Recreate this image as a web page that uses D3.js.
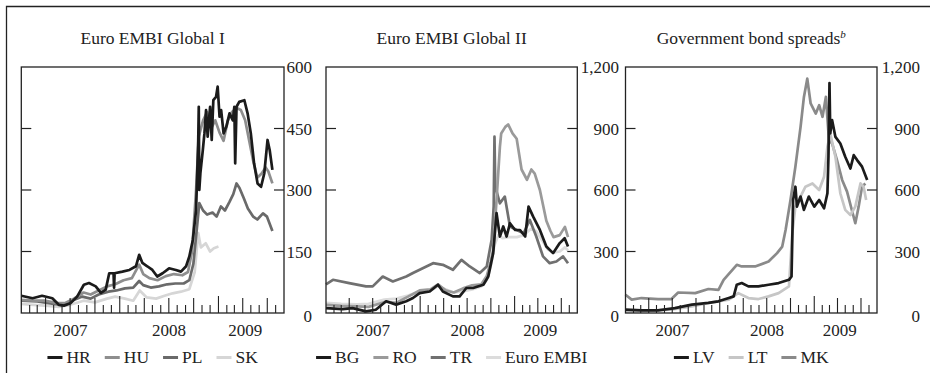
<!DOCTYPE html>
<html>
<head>
<meta charset="utf-8">
<script src="https://cdn.jsdelivr.net/npm/d3@7.9.0/dist/d3.min.js"></script>
<style>
  body { margin: 0; background: #fff; }
  svg text { font-family: "Liberation Serif", "DejaVu Serif", "Times New Roman", serif; }
</style>
</head>
<body>
<svg id="chart" width="930" height="373"></svg>
<script>
// ---- data: [date, spread in basis points] ----
const hr = [["2007-01-01",42],["2007-02-12",36],["2007-03-19",42],["2007-04-26",36],["2007-05-20",20],["2007-06-08",18],
  ["2007-07-02",24],["2007-07-27",40],["2007-08-21",69],["2007-09-09",73],["2007-10-04",65],["2007-10-23",49],
  ["2007-11-10",57],["2007-11-23",97],["2007-12-09",97],["2007-12-11",62],["2007-12-13",97],["2008-01-11",101],
  ["2008-02-06",105],["2008-03-01",114],["2008-03-13",142],["2008-03-25",122],["2008-04-12",114],["2008-05-01",105],
  ["2008-05-19",89],["2008-06-08",97],["2008-07-02",109],["2008-07-27",105],["2008-08-15",101],["2008-09-03",114],
  ["2008-09-15",138],["2008-09-28",178],["2008-10-10",251],["2008-10-18",420],["2008-10-20",503],["2008-10-22",300],
  ["2008-10-26",341],["2008-11-04",397],["2008-11-10",438],["2008-11-16",495],["2008-11-22",430],["2008-12-01",503],
  ["2008-12-07",422],["2008-12-13",519],["2008-12-23",527],["2008-12-29",552],["2009-01-05",479],["2009-01-11",495],
  ["2009-01-20",438],["2009-01-30",454],["2009-02-11",487],["2009-02-23",470],["2009-03-01",503],["2009-03-04",365],
  ["2009-03-09",503],["2009-03-19",515],["2009-04-07",519],["2009-04-19",487],["2009-05-01",438],["2009-05-13",365],
  ["2009-05-26",316],["2009-06-08",308],["2009-06-20",341],["2009-07-02",422],["2009-07-10",397],["2009-07-20",349]];
const hu = [["2007-01-01",32],["2007-02-15",30],["2007-04-01",30],["2007-05-15",24],["2007-06-15",25],["2007-07-15",35],
  ["2007-08-20",50],["2007-09-15",45],["2007-10-15",55],["2007-11-15",65],["2007-12-15",70],["2008-01-15",80],
  ["2008-02-15",85],["2008-03-13",118],["2008-03-28",95],["2008-04-20",85],["2008-05-20",80],["2008-06-20",90],
  ["2008-07-20",95],["2008-08-20",92],["2008-09-10",100],["2008-09-25",150],["2008-10-10",300],["2008-10-20",430],
  ["2008-11-05",470],["2008-11-20",490],["2008-12-05",450],["2008-12-20",470],["2009-01-05",440],["2009-01-20",420],
  ["2009-02-05",470],["2009-02-20",490],["2009-03-10",500],["2009-03-25",495],["2009-04-10",470],["2009-04-25",420],
  ["2009-05-10",370],["2009-05-25",330],["2009-06-10",340],["2009-06-25",355],["2009-07-05",345],["2009-07-20",316]];
const pl = [["2007-01-01",30],["2007-03-01",28],["2007-05-01",22],["2007-06-01",20],["2007-07-01",28],["2007-08-15",40],
  ["2007-09-15",35],["2007-10-15",45],["2007-11-20",52],["2007-12-20",55],["2008-01-20",60],["2008-02-20",62],
  ["2008-03-13",78],["2008-03-28",68],["2008-04-25",62],["2008-05-25",65],["2008-06-25",70],["2008-07-25",72],
  ["2008-08-25",72],["2008-09-15",80],["2008-09-30",120],["2008-10-12",200],["2008-10-22",268],["2008-11-05",250],
  ["2008-11-20",240],["2008-12-10",245],["2008-12-25",235],["2009-01-10",260],["2009-01-25",250],["2009-02-10",270],
  ["2009-02-25",290],["2009-03-09",316],["2009-03-20",305],["2009-04-05",280],["2009-04-20",255],["2009-05-10",235],
  ["2009-05-25",228],["2009-06-15",243],["2009-06-30",235],["2009-07-20",200]];
const sk = [["2007-01-01",22],["2007-02-15",20],["2007-04-01",18],["2007-05-20",15],["2007-07-01",20],["2007-08-20",30],
  ["2007-10-01",26],["2007-11-15",35],["2007-12-15",40],["2008-01-20",35],["2008-02-20",30],["2008-03-15",55],
  ["2008-04-10",38],["2008-05-15",35],["2008-06-15",42],["2008-07-15",48],["2008-08-15",52],["2008-09-15",58],
  ["2008-10-05",100],["2008-10-18",195],["2008-10-28",160],["2008-11-15",170],["2008-12-01",150],["2008-12-15",158],
  ["2009-01-01",162]];

const bg = [["2007-01-01",24],["2007-03-06",19],["2007-04-14",24],["2007-06-05",8],["2007-07-13",16],["2007-08-22",57],
  ["2007-09-30",41],["2007-11-08",57],["2007-12-04",73],["2007-12-30",97],["2008-02-07",105],["2008-03-10",138],
  ["2008-03-29",105],["2008-05-07",81],["2008-06-02",81],["2008-06-28",122],["2008-07-24",122],["2008-09-02",138],
  ["2008-09-21",178],["2008-10-10",292],["2008-10-23",487],["2008-11-05",373],["2008-11-18",422],["2008-12-01",373],
  ["2008-12-14",438],["2009-01-03",405],["2009-01-22",405],["2009-02-11",373],["2009-02-24",519],["2009-03-14",470],
  ["2009-04-09",405],["2009-05-04",324],["2009-05-30",292],["2009-06-25",341],["2009-07-14",365],["2009-07-27",324]];
const ro = [["2007-01-01",40],["2007-03-01",35],["2007-05-01",32],["2007-06-15",30],["2007-08-20",55],["2007-10-01",50],
  ["2007-11-15",80],["2007-12-30",110],["2008-02-10",115],["2008-03-10",140],["2008-04-10",110],["2008-05-10",100],
  ["2008-06-15",120],["2008-07-20",135],["2008-08-25",140],["2008-09-15",180],["2008-09-30",250],["2008-10-10",308],
  ["2008-10-23",551],["2008-11-05",810],["2008-11-10",876],["2008-11-26",908],["2008-12-07",920],["2008-12-24",876],
  ["2009-01-09",850],["2009-01-28",700],["2009-02-18",650],["2009-03-07",700],["2009-03-20",680],["2009-04-09",600],
  ["2009-05-04",450],["2009-05-20",400],["2009-06-01",370],["2009-06-25",380],["2009-07-15",420],["2009-07-27",370]];
const tr = [["2007-01-01",140],["2007-01-28",162],["2007-04-01",146],["2007-06-05",130],["2007-07-01",130],["2007-08-09",178],
  ["2007-09-17",154],["2007-11-08",178],["2007-12-04",195],["2007-12-30",211],["2008-02-20",243],["2008-03-29",235],
  ["2008-05-07",211],["2008-06-09",259],["2008-07-11",227],["2008-08-19",195],["2008-09-15",227],["2008-10-04",357],
  ["2008-10-12",520],["2008-10-15",860],["2008-10-18",616],["2008-11-05",535],["2008-11-24",568],["2008-12-14",422],
  ["2009-01-09",405],["2009-02-05",389],["2009-03-01",454],["2009-03-26",373],["2009-04-21",276],["2009-05-17",243],
  ["2009-06-12",251],["2009-07-08",276],["2009-07-27",243]];
const euroEmbi = [["2007-01-01",50],["2007-03-01",45],["2007-05-01",42],["2007-06-15",45],["2007-08-15",65],["2007-10-01",70],
  ["2007-11-15",85],["2007-12-30",105],["2008-02-10",110],["2008-03-10",130],["2008-04-10",115],["2008-05-10",100],
  ["2008-06-15",105],["2008-07-20",115],["2008-08-25",130],["2008-09-15",160],["2008-10-01",230],["2008-10-15",330],
  ["2008-10-30",380],["2008-11-15",365],["2008-12-10",370],["2009-01-10",370],["2009-02-05",380],["2009-03-05",410],
  ["2009-03-25",400],["2009-04-15",360],["2009-05-10",310],["2009-06-01",295],["2009-06-25",300],["2009-07-15",320],
  ["2009-07-27",305]];

const lv = [["2007-01-01",16],["2007-03-04",13],["2007-05-07",13],["2007-07-11",24],["2007-09-15",41],["2007-11-18",49],
  ["2007-12-27",57],["2008-02-05",73],["2008-02-24",81],["2008-03-07",138],["2008-03-26",146],["2008-04-21",130],
  ["2008-05-30",130],["2008-07-08",138],["2008-08-16",146],["2008-09-25",162],["2008-10-05",178],["2008-10-11",551],
  ["2008-10-20",616],["2008-10-26",519],["2008-11-09",568],["2008-11-22",503],["2008-12-11",568],["2009-01-01",519],
  ["2009-01-20",551],["2009-02-08",511],["2009-02-21",584],["2009-02-25",762],["2009-03-01",1122],["2009-03-04",876],
  ["2009-03-11",941],["2009-03-24",859],["2009-04-12",827],["2009-05-01",762],["2009-05-21",705],["2009-06-03",770],
  ["2009-06-16",746],["2009-07-05",714],["2009-07-25",649]];
const lt = [["2007-01-01",8],["2007-04-01",10],["2007-07-01",18],["2007-09-15",32],["2007-11-18",49],["2008-02-05",65],
  ["2008-03-13",97],["2008-04-21",73],["2008-05-30",68],["2008-07-08",81],["2008-08-16",97],["2008-09-25",130],
  ["2008-10-08",389],["2008-10-20",519],["2008-11-02",551],["2008-11-28",616],["2008-12-25",632],["2009-01-20",600],
  ["2009-02-08",665],["2009-02-21",811],["2009-03-04",876],["2009-03-24",762],["2009-04-12",584],["2009-05-01",503],
  ["2009-05-21",478],["2009-06-09",519],["2009-06-29",632],["2009-07-11",616],["2009-07-21",551]];
const mk = [["2007-01-01",89],["2007-01-25",65],["2007-03-04",73],["2007-05-07",68],["2007-06-28",68],["2007-07-24",100],
  ["2007-09-28",97],["2007-11-18",117],["2007-12-27",113],["2008-01-16",162],["2008-03-07",235],["2008-03-26",227],
  ["2008-05-17",227],["2008-07-08",251],["2008-08-10",292],["2008-08-30",324],["2008-09-12",405],["2008-10-01",551],
  ["2008-10-20",714],["2008-11-09",908],["2008-11-22",1054],["2008-12-05",1143],["2008-12-18",1022],["2009-01-07",973],
  ["2009-01-20",1014],["2009-02-02",957],["2009-02-15",1054],["2009-02-27",843],["2009-03-11",827],["2009-03-30",746],
  ["2009-04-19",649],["2009-05-08",592],["2009-05-28",495],["2009-06-09",438],["2009-06-22",519],["2009-07-05",616],
  ["2009-07-18",632]];

const titles = ["Euro EMBI Global I", "Euro EMBI Global II", "Government bond spreads"];
const yearLabels = [["2007", "2007-07-02"], ["2008", "2008-07-02"], ["2009", "2009-04-10"]];

const parse = d3.timeParse('%Y-%m-%d');
const svg = d3.select('#chart');
const serif = '"Liberation Serif", "DejaVu Serif", "Times New Roman", serif';

// outer box (only left and top edges fall inside the picture)
svg.append('path')
  .attr('d', 'M6.5,380V6.5H940')
  .attr('fill', 'none').attr('stroke', '#222').attr('stroke-width', 1.3);

const panels = [
  { title: titles[0], x0: 21.3, x1: 284, labelX: 312, max: 600, step: 150,
    series: [['HR', hr, '#1b1b1b'], ['HU', hu, '#8e8e8e'], ['PL', pl, '#6a6a6a'], ['SK', sk, '#d6d6d6']] },
  { title: titles[1], x0: 326, x1: 577.3, labelX: 619, max: 1200, step: 300,
    series: [['BG', bg, '#1b1b1b'], ['RO', ro, '#9a9a9a'], ['TR', tr, '#707070'], ['Euro EMBI', euroEmbi, '#dcdcdc']] },
  { title: titles[2], x0: 625.5, x1: 877, labelX: 920, max: 1200, step: 300, sup: 'b',
    series: [['LV', lv, '#1b1b1b'], ['LT', lt, '#c6c6c6'], ['MK', mk, '#8a8a8a']] },
];

const yTop = 67, yBot = 313;

panels.forEach((p) => {
  const g = svg.append('g').attr('font-family', serif);
  const x = d3.scaleTime()
    .domain([parse('2007-01-01'), parse('2009-09-01')])
    .range([p.x0, p.x1]);
  const y = d3.scaleLinear().domain([0, p.max]).range([yBot, yTop]);
  const cx = (p.x0 + p.x1) / 2;

  // title
  const t = g.append('text')
    .attr('x', cx).attr('y', 43.5)
    .attr('text-anchor', 'middle')
    .attr('font-size', 17.5).attr('fill', '#222')
    .text(p.title);
  if (p.sup) {
    t.append('tspan').attr('font-style', 'italic').attr('font-size', 11)
      .attr('dy', -6).text(p.sup);
  }

  // series, last legend entry drawn first so black sits on top
  const line = d3.line()
    .x((d) => x(parse(d[0])))
    .y((d) => y(d[1]));
  p.series.slice().reverse().forEach(([name, data, color]) => {
    g.append('path')
      .datum(data)
      .attr('d', line)
      .attr('fill', 'none')
      .attr('stroke', color)
      .attr('stroke-width', 2.7)
      .attr('stroke-linejoin', 'round');
  });

  // frame
  g.append('rect')
    .attr('x', p.x0).attr('y', yTop)
    .attr('width', p.x1 - p.x0).attr('height', yBot - yTop)
    .attr('fill', 'none').attr('stroke', '#222').attr('stroke-width', 1.3);

  // y ticks inside both edges, labels on the right
  const yTicks = d3.range(0, p.max + 1, p.step);
  yTicks.forEach((v) => {
    if (v > 0 && v < p.max) {
      g.append('line').attr('x1', p.x0).attr('x2', p.x0 + 10)
        .attr('y1', y(v)).attr('y2', y(v)).attr('stroke', '#222').attr('stroke-width', 1.2);
      g.append('line').attr('x1', p.x1 - 10).attr('x2', p.x1)
        .attr('y1', y(v)).attr('y2', y(v)).attr('stroke', '#222').attr('stroke-width', 1.2);
    }
    g.append('text')
      .attr('x', p.labelX).attr('y', y(v) + (v === 0 ? 9 : 6))
      .attr('text-anchor', 'end')
      .attr('font-size', 17).attr('fill', '#222')
      .text(d3.format(',')(v));
  });

  // month ticks along the bottom, longer each quarter
  d3.timeMonth.range(d3.timeMonth.offset(x.domain()[0], 1), x.domain()[1]).forEach((d) => {
    const m = d.getMonth();
    const len = m === 0 ? 17 : (m % 3 === 0 ? 15 : 8);
    g.append('line')
      .attr('x1', x(d)).attr('x2', x(d))
      .attr('y1', yBot).attr('y2', yBot - len)
      .attr('stroke', '#222').attr('stroke-width', 1.1);
  });

  yearLabels.forEach(([label, date]) => {
    g.append('text')
      .attr('x', x(parse(date))).attr('y', 336)
      .attr('text-anchor', 'middle')
      .attr('font-size', 17).attr('fill', '#222')
      .text(label);
  });

  // legend, centred under the frame
  const lg = g.append('g');
  let pos = 0;
  p.series.forEach(([name, , color], i) => {
    if (i > 0) pos += 14;
    lg.append('line')
      .attr('x1', pos).attr('x2', pos + 15)
      .attr('y1', 357.5).attr('y2', 357.5)
      .attr('stroke', color).attr('stroke-width', 3);
    const txt = lg.append('text')
      .attr('x', pos + 19).attr('y', 363)
      .attr('font-size', 17.5).attr('fill', '#222')
      .text(name);
    pos += 19 + txt.node().getComputedTextLength();
  });
  lg.attr('transform', `translate(${cx - pos / 2},0)`);
});
</script>
</body>
</html>
